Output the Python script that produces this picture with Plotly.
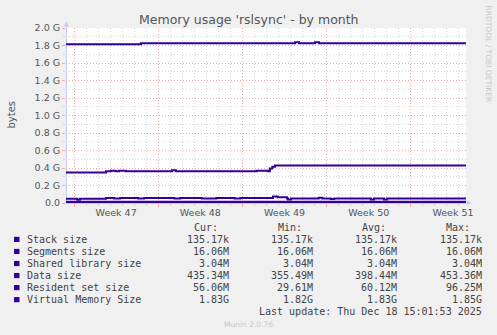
import plotly.graph_objects as go

# ---------------- data (values in G, x in days since graph start) ----------------
series_names = ["Stack size", "Segments size", "Shared library size",
                "Data size", "Resident set size", "Virtual Memory Size"]
cur_vals = ["135.17k", "16.06M", "3.04M", "435.34M", "56.06M", "1.83G"]
min_vals = ["135.17k", "16.06M", "3.04M", "355.49M", "29.61M", "1.82G"]
avg_vals = ["135.17k", "16.06M", "3.04M", "398.44M", "60.12M", "1.83G"]
max_vals = ["135.17k", "16.06M", "3.04M", "453.36M", "96.25M", "1.85G"]

stack_x = [0, 33.25]
stack_y = [0.000126, 0.000126]
seg_x = [0, 33.25]
seg_y = [0.0150, 0.0150]
shlib_x = [0, 33.25]
shlib_y = [0.0028, 0.0028]

data_x = [0, 3.33, 3.72, 4.10, 4.41, 4.96, 8.81, 9.14, 15.85, 16.79, 16.95, 17.15, 17.37, 33.25]
data_y = [0.350, 0.362, 0.370, 0.364, 0.369, 0.362, 0.374, 0.362, 0.370, 0.362, 0.395, 0.415, 0.428, 0.428]

rss_x = [0, 0.94, 1.16, 3.33, 4.00, 4.50, 6.00, 6.50, 9.00, 9.50, 11.3, 12.5, 14.0, 14.5,
         17.2, 17.6, 18.37, 18.45, 18.7, 21.0, 21.3, 22.0, 22.3, 25.33, 25.6, 26.43, 26.7, 33.25]
rss_y = [0.048, 0.036, 0.048, 0.058, 0.052, 0.058, 0.052, 0.058, 0.052, 0.058, 0.052, 0.058, 0.052, 0.058,
         0.074, 0.066, 0.052, 0.040, 0.052, 0.060, 0.052, 0.045, 0.052, 0.040, 0.052, 0.040, 0.052, 0.052]

vsz_x = [0, 6.23, 19.04, 19.37, 20.70, 21.03, 33.25]
vsz_y = [1.815, 1.825, 1.838, 1.825, 1.838, 1.825, 1.825]

y_tickvals = [0.0, 0.2, 0.4, 0.6, 0.8, 1.0, 1.2, 1.4, 1.6, 1.8, 2.0]
y_ticktext = ["0.0", "0.2 G", "0.4 G", "0.6 G", "0.8 G", "1.0 G", "1.2 G", "1.4 G", "1.6 G", "1.8 G", "2.0 G"]
week_labels = ["Week 47", "Week 48", "Week 49", "Week 50", "Week 51"]

title_text = "Memory usage 'rslsync' - by month"
y_title = "bytes"
last_update = "Last update: Thu Dec 18 15:01:53 2025"
footer = "Munin 2.0.76"
watermark = "RRDTOOL / TOBI OETIKER"

# ---------------- layout constants ----------------
W, H = 497, 335
L, R_, T, B = 66, 466, 28, 203          # plot area in pixels
X_RANGE = [0, 33.25]
WEEK0 = 0.665                            # first week boundary (days)
LINE_COLOR = "#330099"
TEXT_COLOR = "#444444"
MAJOR_GRID = "#f2aaaa"
MINOR_GRID = "#d6d6d6"
AXIS_COLOR = "#c4c8f4"

def PX(px):
    return (px - L) / (R_ - L)

def PY(py):
    return (B - py) / (B - T)

week_mid = [WEEK0 + 3.5 + 7 * i for i in range(len(week_labels))]

fig = go.Figure()
all_series = [(stack_x, stack_y), (seg_x, seg_y), (shlib_x, shlib_y),
              (data_x, data_y), (rss_x, rss_y), (vsz_x, vsz_y)]
for name, (xs, ys) in zip(series_names, all_series):
    fig.add_trace(go.Scatter(x=xs, y=ys, mode="lines", name=name,
                             line=dict(color=LINE_COLOR, width=2, shape="hv"),
                             showlegend=False, hoverinfo="skip"))

# dummy trace to hold the week label axis
fig.add_trace(go.Scatter(x=week_mid, y=[None] * len(week_mid), xaxis="x2", yaxis="y",
                         mode="markers", showlegend=False, hoverinfo="skip"))

mono = "DejaVu Sans Mono"
sans = "DejaVu Sans"

annotations = []
annotations.append(dict(text=title_text, x=PX(248.5), y=PY(19), xref="paper", yref="paper",
                        xanchor="center", yanchor="middle", showarrow=False, borderpad=0,
                        font=dict(family=sans, size=12.5, color="#555555")))
annotations.append(dict(text=y_title, x=PX(10.5), y=PY(114), xref="paper", yref="paper",
                        xanchor="center", yanchor="middle", showarrow=False, textangle=-90,
                        borderpad=0, font=dict(family=sans, size=10, color="#555555")))
annotations.append(dict(text=watermark, x=PX(488), y=PY(53.5), xref="paper", yref="paper",
                        xanchor="center", yanchor="middle", showarrow=False, textangle=90,
                        borderpad=0, font=dict(family=sans, size=7.5, color="#c8c8c8")))
annotations.append(dict(text=footer, x=PX(248), y=PY(324), xref="paper", yref="paper",
                        xanchor="center", yanchor="middle", showarrow=False, borderpad=0,
                        font=dict(family=sans, size=7.5, color="#c8c8c8")))

col_right = [230.3, 314.0, 398.3, 482.7]
head_center = [206, 290, 374, 458]
for hdr, cx in zip(["Cur:", "Min:", "Avg:", "Max:"], head_center):
    annotations.append(dict(text=hdr, x=PX(cx), y=PY(227.3), xref="paper", yref="paper",
                            xanchor="center", yanchor="middle", showarrow=False, borderpad=0,
                            font=dict(family=mono, size=10, color=TEXT_COLOR)))

shapes = []
row_y0, row_dy = 239.4, 12.05
for i, name in enumerate(series_names):
    ry = row_y0 + i * row_dy
    annotations.append(dict(text=name.replace(" ", "&nbsp;"), x=PX(26), y=PY(ry), xref="paper", yref="paper",
                            xanchor="left", yanchor="middle", showarrow=False, borderpad=0,
                            font=dict(family=mono, size=10, color=TEXT_COLOR)))
    for vals, rx in zip([cur_vals, min_vals, avg_vals, max_vals], col_right):
        annotations.append(dict(text=vals[i], x=PX(rx), y=PY(ry), xref="paper", yref="paper",
                                xanchor="right", yanchor="middle", showarrow=False, borderpad=0,
                                font=dict(family=mono, size=10, color=TEXT_COLOR)))
    shapes.append(dict(type="rect", xref="paper", yref="paper",
                       x0=PX(14), x1=PX(19.5), y0=PY(ry - 2.6), y1=PY(ry + 2.6),
                       fillcolor=LINE_COLOR, line=dict(width=0), layer="above"))

annotations.append(dict(text=last_update.replace(" ", "&nbsp;"), x=PX(482.7), y=PY(311.4),
                        xref="paper", yref="paper", xanchor="right", yanchor="middle",
                        showarrow=False, borderpad=0,
                        font=dict(family=mono, size=10, color=TEXT_COLOR)))

# axis arrows
shapes.append(dict(type="path", xref="paper", yref="paper",
                   path=f"M {PX(63.8)} {PY(26.5)} L {PX(66.3)} {PY(21.5)} L {PX(68.8)} {PY(26.5)} Z",
                   fillcolor=AXIS_COLOR, line=dict(width=0)))
shapes.append(dict(type="line", xref="paper", yref="paper",
                   x0=PX(66.5), x1=PX(66.5), y0=PY(203), y1=PY(26),
                   line=dict(color=AXIS_COLOR, width=1), layer="below"))
shapes.append(dict(type="path", xref="paper", yref="paper",
                   path=f"M {PX(466.5)} {PY(200.5)} L {PX(471.5)} {PY(203)} L {PX(466.5)} {PY(205.5)} Z",
                   fillcolor=AXIS_COLOR, line=dict(width=0)))

fig.update_layout(
    width=W, height=H,
    margin=dict(l=L, r=W - R_, t=T, b=H - B, pad=0),
    paper_bgcolor="#f0f0f0", plot_bgcolor="#ffffff",
    showlegend=False,
    annotations=annotations, shapes=shapes,
    xaxis=dict(range=X_RANGE, tickmode="linear", tick0=WEEK0, dtick=7,
               showticklabels=False, showgrid=True, gridcolor=MAJOR_GRID, griddash="1px,2px",
               gridwidth=1, ticks="outside", ticklen=3, tickcolor=MAJOR_GRID,
               zeroline=False, showline=True, linecolor=AXIS_COLOR, linewidth=1,
               layer="below traces",
               minor=dict(tickmode="linear", tick0=WEEK0, dtick=1, showgrid=True,
                          gridcolor=MINOR_GRID, griddash="1px,2px", ticks="outside",
                          ticklen=2, tickcolor=MINOR_GRID)),
    xaxis2=dict(range=X_RANGE, overlaying="x", anchor="y", side="bottom",
                tickmode="array", tickvals=week_mid, ticktext=week_labels,
                showgrid=False, zeroline=False, ticks="", showline=False,
                ticklabelstandoff=2,
                tickfont=dict(family=sans, size=9.5, color="#555555")),
    yaxis=dict(range=[0, 2.0], tickmode="array", tickvals=y_tickvals, ticktext=y_ticktext,
               showgrid=True, gridcolor=MAJOR_GRID, griddash="1px,2px", gridwidth=1,
               ticks="outside", ticklen=3, tickcolor=MAJOR_GRID,
               zeroline=False, showline=False, layer="below traces",
               tickfont=dict(family=sans, size=9.5, color="#555555"),
               minor=dict(tickmode="linear", tick0=0, dtick=0.1, showgrid=True,
                          gridcolor=MINOR_GRID, griddash="1px,2px", ticks="outside",
                          ticklen=2, tickcolor=MINOR_GRID)),
)

fig.write_html("out.html")
